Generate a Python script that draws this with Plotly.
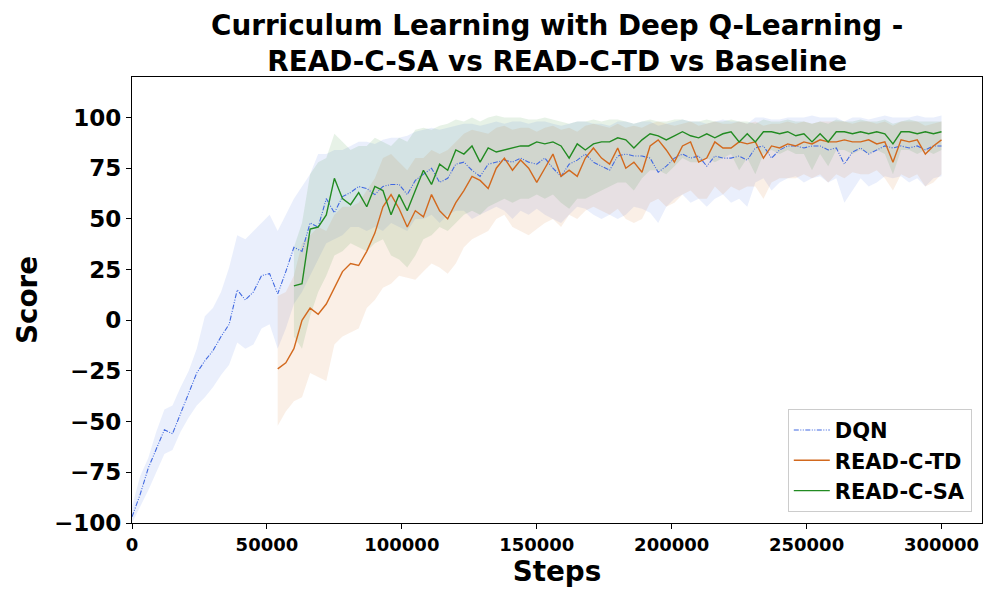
import plotly.graph_objects as go

# ---------------- data ----------------
STEP = 3000

dqn_steps = list(range(0, 300001, STEP))
dqn_mean = [
    -97, -86, -73, -63, -54, -56, -46, -36, -26, -20,
    -15, -8, -2, 15, 10, 14, 22, 23, 13, 24,
    36, 34, 48, 46, 60, 53, 61, 63, 66, 65,
    62, 66, 67, 67, 62, 69, 72, 75, 68, 70,
    77, 78, 74, 71, 77, 78, 79, 78, 80, 78,
    77, 80, 75, 71, 77, 79, 82, 78, 76, 74,
    81, 82, 81, 81, 80, 73, 76, 80, 82, 80,
    81, 76, 81, 80, 80, 81, 79, 85, 86, 80,
    84, 86, 86, 85, 86, 86, 84, 85, 77, 83,
    85, 82, 84, 86, 85, 86, 85, 86, 84, 86,
    86,
]
dqn_upper = [
    -92, -77, -68, -55, -44, -42, -33, -25, -14, 2,
    6, 14, 26, 42, 40, 44, 48, 52, 44, 52,
    60, 66, 72, 82, 82, 84, 84, 86, 88, 88,
    87, 89, 90, 90, 91, 93, 94, 95, 94, 95,
    96, 97, 97, 96, 97, 98, 97, 98, 98, 97,
    98, 98, 97, 96, 97, 98, 98, 97, 97, 96,
    98, 98, 97, 98, 98, 96, 97, 98, 99, 98,
    98, 97, 98, 99, 98, 98, 97, 100, 100, 99,
    99, 100, 100, 100, 101, 100, 100, 100, 98, 100,
    100, 99, 100, 101, 100, 100, 100, 101, 100, 100,
    101,
]
dqn_lower = [
    -100, -92, -84, -75, -66, -64, -55, -48, -42, -38,
    -33, -27, -22, -11, -14, -12, -4, -2, -14, -4,
    8, 14, 22, 30, 38, 40, 42, 46, 46, 44,
    46, 44, 48, 46, 44, 50, 50, 52, 48, 52,
    54, 54, 50, 52, 54, 56, 54, 50, 54, 52,
    55, 52, 50, 48, 52, 56, 55, 52, 50, 52,
    50, 52, 56, 55, 53, 48, 56, 60, 62, 58,
    60, 56, 60, 62, 58, 60, 56, 68, 70, 64,
    68, 70, 71, 68, 70, 71, 68, 70, 58, 64,
    70, 66, 68, 71, 70, 71, 68, 70, 66, 70,
    71,
]

td_steps = list(range(54000, 300001, STEP))
td_mean = [
    -24, -21, -14, 0, 6, 3, 8, 16, 24, 28,
    27, 34, 43, 56, 62, 55, 46, 54, 51, 62,
    54, 50, 58, 64, 71, 69, 65, 75, 80, 74,
    79, 75, 68, 75, 82, 71, 74, 71, 80, 85,
    80, 77, 85, 75, 78, 73, 86, 89, 84, 78,
    86, 88, 78, 80, 88, 85, 85, 88, 87, 88,
    80, 86, 85, 87, 86, 88, 87, 89, 88, 88,
    89, 88, 88, 89, 87, 88, 78, 89, 88, 89,
    82, 86, 89,
]
td_upper = [
    12, 14, 22, 38, 42, 46, 44, 52, 56, 56,
    58, 64, 70, 80, 82, 78, 74, 80, 80, 84,
    82, 84, 88, 92, 94, 93, 92, 95, 96, 94,
    95, 95, 93, 95, 96, 94, 95, 93, 96, 97,
    96, 95, 97, 95, 96, 95, 97, 98, 97, 96,
    97, 98, 96, 97, 98, 97, 97, 98, 97, 98,
    96, 97, 97, 98, 97, 98, 97, 98, 98, 98,
    98, 97, 98, 98, 97, 98, 96, 98, 98, 98,
    96, 97, 98,
]
td_lower = [
    -52, -45, -40, -38, -26, -28, -30, -12, -8, -6,
    -4, 6, 10, 16, 18, 22, 21, 20, 24, 28,
    26, 23, 28, 36, 40, 42, 44, 50, 52, 46,
    44, 42, 45, 48, 50, 46, 52, 50, 54, 56,
    54, 52, 55, 50, 48, 50, 58, 60, 56, 58,
    62, 64, 60, 60, 66, 62, 66, 64, 66, 66,
    60, 68, 70, 70, 70, 72, 70, 72, 68, 72,
    70, 73, 72, 72, 74, 70, 64, 72, 70, 72,
    66, 68, 72,
]

sa_steps = list(range(60000, 300001, STEP))
sa_mean = [
    17, 18, 45, 46, 52, 70, 60, 57, 63, 56,
    66, 64, 52, 62, 54, 64, 74, 67, 77, 74,
    84, 82, 86, 78, 85, 83, 84, 85, 86, 86,
    88, 87, 88, 86, 80, 87, 84, 87, 88, 88,
    90, 89, 85, 89, 92, 91, 89, 91, 93, 91,
    90, 92, 90, 92, 93, 88, 92, 88, 93, 93,
    92, 93, 91, 92, 88, 92, 88, 93, 93, 92,
    93, 92, 93, 92, 87, 93, 93, 92, 93, 92,
    93,
]
sa_upper = [
    36, 48, 72, 78, 80, 92, 88, 84, 86, 86,
    90, 88, 86, 90, 88, 94, 95, 94, 96, 97,
    99, 98, 100, 98, 100, 101, 100, 100, 100, 99,
    99, 100, 99, 98, 97, 98, 98, 99, 98, 99,
    99, 98, 97, 98, 99, 98, 98, 99, 99, 98,
    98, 99, 98, 98, 99, 98, 98, 97, 99, 98,
    98, 99, 98, 98, 97, 98, 97, 99, 98, 98,
    99, 98, 98, 99, 97, 98, 99, 98, 98, 98,
    98,
]
sa_lower = [
    -8, -14, 2, 14, 22, 32, 34, 38, 36, 34,
    38, 40, 32, 30, 26, 32, 40, 42, 46, 44,
    48, 52, 54, 52, 56, 58, 60, 58, 60, 60,
    62, 60, 62, 58, 55, 60, 60, 62, 64, 66,
    68, 68, 64, 70, 74, 74, 72, 76, 80, 78,
    78, 80, 78, 80, 82, 74, 80, 72, 82, 84,
    82, 84, 82, 82, 74, 82, 76, 84, 84, 82,
    84, 82, 84, 82, 72, 84, 84, 82, 84, 82,
    84,
]

x_ticks = [0, 50000, 100000, 150000, 200000, 250000, 300000]
y_ticks = [-100, -75, -50, -25, 0, 25, 50, 75, 100]

title_lines = ["Curriculum Learning with Deep Q-Learning -",
               "READ-C-SA vs READ-C-TD vs Baseline"]

# ---------------- figure ----------------
FONT = "DejaVu Sans"
series = [
    ("DQN", dqn_steps, dqn_mean, dqn_lower, dqn_upper, "#4169E1", "rgba(65,105,225,0.11)",
     "5px,1.5px,1px,1.5px,1px,1.5px", 1.1),
    ("READ-C-TD", td_steps, td_mean, td_lower, td_upper, "#D2691E", "rgba(210,105,30,0.11)",
     "solid", 1.4),
    ("READ-C-SA", sa_steps, sa_mean, sa_lower, sa_upper, "#228B22", "rgba(34,139,34,0.11)",
     "solid", 1.4),
]

fig = go.Figure()
for name, xs, m, lo, up, col, fillcol, dash, w in series:
    fig.add_trace(go.Scatter(x=xs, y=up, mode="lines", line=dict(width=0, color=fillcol),
                             showlegend=False, hoverinfo="skip"))
    fig.add_trace(go.Scatter(x=xs, y=lo, mode="lines", line=dict(width=0, color=fillcol),
                             fill="tonexty", fillcolor=fillcol, showlegend=False, hoverinfo="skip"))
for name, xs, m, lo, up, col, fillcol, dash, w in series:
    fig.add_trace(go.Scatter(x=xs, y=m, mode="lines", name=name,
                             line=dict(color=col, width=w, dash=dash)))

axis_common = dict(
    showline=True, linecolor="black", linewidth=1.1, mirror=True,
    ticks="outside", ticklen=5, tickwidth=1.1, tickcolor="black",
    showgrid=False, zeroline=False,
)
fig.update_xaxes(
    range=[0, 315000], tickvals=x_ticks, ticktext=[str(v) for v in x_ticks],
    tickfont=dict(family=FONT, size=18, color="black", weight="bold"),
    title=dict(text="Steps", font=dict(family=FONT, size=27.8, color="black", weight="bold"),
               standoff=6),
    **axis_common,
)
fig.update_yaxes(
    range=[-100, 120], tickvals=y_ticks,
    tickfont=dict(family=FONT, size=23, color="black", weight="bold"),
    title=dict(text="Score", font=dict(family=FONT, size=27.8, color="black", weight="bold"),
               standoff=8),
    **axis_common,
)
# the page body adds an 8px offset, so margins are shifted to place the plot area
fig.update_layout(
    width=1000, height=600,
    margin=dict(l=124, r=26, t=69, b=85, pad=0),
    paper_bgcolor="white", plot_bgcolor="white",
    annotations=[dict(
        text="<br>".join(title_lines), x=0.5, xref="paper", xanchor="center",
        y=1.074, yref="paper", yanchor="middle", showarrow=False,
        font=dict(family=FONT, size=27.8, color="black", weight="bold"),
    )],
    legend=dict(
        x=0.988, y=0.025, xanchor="right", yanchor="bottom", traceorder="normal",
        bgcolor="rgba(255,255,255,0.85)", bordercolor="#cccccc", borderwidth=1,
        font=dict(family=FONT, size=21, color="black", weight="bold"),
        itemwidth=36,
    ),
    showlegend=True,
)

fig.write_html("out.html")
